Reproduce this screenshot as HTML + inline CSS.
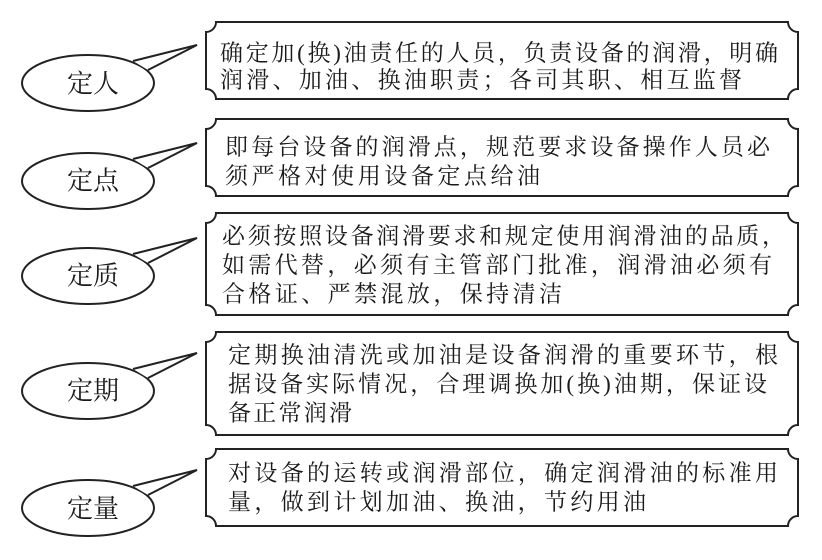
<!DOCTYPE html>
<html><head><meta charset="utf-8"><style>
html,body{margin:0;padding:0;background:#fff}
svg{display:block}
text{font-family:"Liberation Serif","Noto Serif CJK SC","Noto Sans CJK SC",serif;fill:#1a1a1a}
</style></head><body>
<svg width="822" height="560" viewBox="0 0 822 560" xmlns="http://www.w3.org/2000/svg">
<g fill="#fff" stroke="#222" stroke-width="2">
<path d="M216,22 H788 A10 10 0 0 0 798,32 V89 A10 10 0 0 0 788,99 H216 A10 10 0 0 0 206,89 V32 A10 10 0 0 0 216,22 Z"/>
<path d="M216,119 H788 A10 10 0 0 0 798,129 V186 A10 10 0 0 0 788,196 H216 A10 10 0 0 0 206,186 V129 A10 10 0 0 0 216,119 Z"/>
<path d="M216,213 H788 A10 10 0 0 0 798,223 V305 A10 10 0 0 0 788,315 H216 A10 10 0 0 0 206,305 V223 A10 10 0 0 0 216,213 Z"/>
<path d="M216,332 H788 A10 10 0 0 0 798,342 V425 A10 10 0 0 0 788,435 H216 A10 10 0 0 0 206,425 V342 A10 10 0 0 0 216,332 Z"/>
<path d="M216,449 H788 A10 10 0 0 0 798,459 V516 A10 10 0 0 0 788,526 H216 A10 10 0 0 0 206,516 V459 A10 10 0 0 0 216,449 Z"/>
</g>
<g fill="#fff" stroke="#222" stroke-width="2">
<ellipse cx="88" cy="83" rx="66" ry="28"/>
<polygon points="133,61 197,45 148,70" stroke="none"/>
<polyline points="133,61 197,45 148,70" fill="none"/>
<ellipse cx="88" cy="181" rx="66" ry="28"/>
<polygon points="133,159 197,143 148,168" stroke="none"/>
<polyline points="133,159 197,143 148,168" fill="none"/>
<ellipse cx="88" cy="276" rx="66" ry="28"/>
<polygon points="133,254 197,238 148,263" stroke="none"/>
<polyline points="133,254 197,238 148,263" fill="none"/>
<ellipse cx="88" cy="391" rx="66" ry="28"/>
<polygon points="133,369 197,353 148,378" stroke="none"/>
<polyline points="133,369 197,353 148,378" fill="none"/>
<ellipse cx="88" cy="508" rx="66" ry="28"/>
<polygon points="133,486 197,470 148,495" stroke="none"/>
<polyline points="133,486 197,470 148,495" fill="none"/>
</g>
<g font-size="26" text-anchor="middle" dominant-baseline="central">
<text x="93" y="84">定人</text>
<text x="93" y="181">定点</text>
<text x="93" y="276">定质</text>
<text x="93" y="391">定期</text>
<text x="93" y="509">定量</text>
</g>
<g font-size="23" dominant-baseline="central">
<text x="220" y="53" textLength="558" lengthAdjust="spacing">确定加(换)油责任的人员，负责设备的润滑，明确</text>
<text x="220" y="80" textLength="522" lengthAdjust="spacing">润滑、加油、换油职责；各司其职、相互监督</text>
<text x="225" y="147" textLength="545" lengthAdjust="spacing">即每台设备的润滑点，规范要求设备操作人员必</text>
<text x="225" y="176" textLength="315" lengthAdjust="spacing">须严格对使用设备定点给油</text>
<text x="222" y="236" textLength="563" lengthAdjust="spacing">必须按照设备润滑要求和规定使用润滑油的品质，</text>
<text x="222" y="265" textLength="550" lengthAdjust="spacing">如需代替，必须有主管部门批准，润滑油必须有</text>
<text x="222" y="294" textLength="340" lengthAdjust="spacing">合格证、严禁混放，保持清洁</text>
<text x="228" y="355" textLength="550" lengthAdjust="spacing">定期换油清洗或加油是设备润滑的重要环节，根</text>
<text x="228" y="384" textLength="539" lengthAdjust="spacing">据设备实际情况，合理调换加(换)油期，保证设</text>
<text x="228" y="413" textLength="124" lengthAdjust="spacing">备正常润滑</text>
<text x="228" y="473" textLength="550" lengthAdjust="spacing">对设备的运转或润滑部位，确定润滑油的标准用</text>
<text x="228" y="502" textLength="418" lengthAdjust="spacing">量，做到计划加油、换油，节约用油</text>
</g>
</svg>
</body></html>
